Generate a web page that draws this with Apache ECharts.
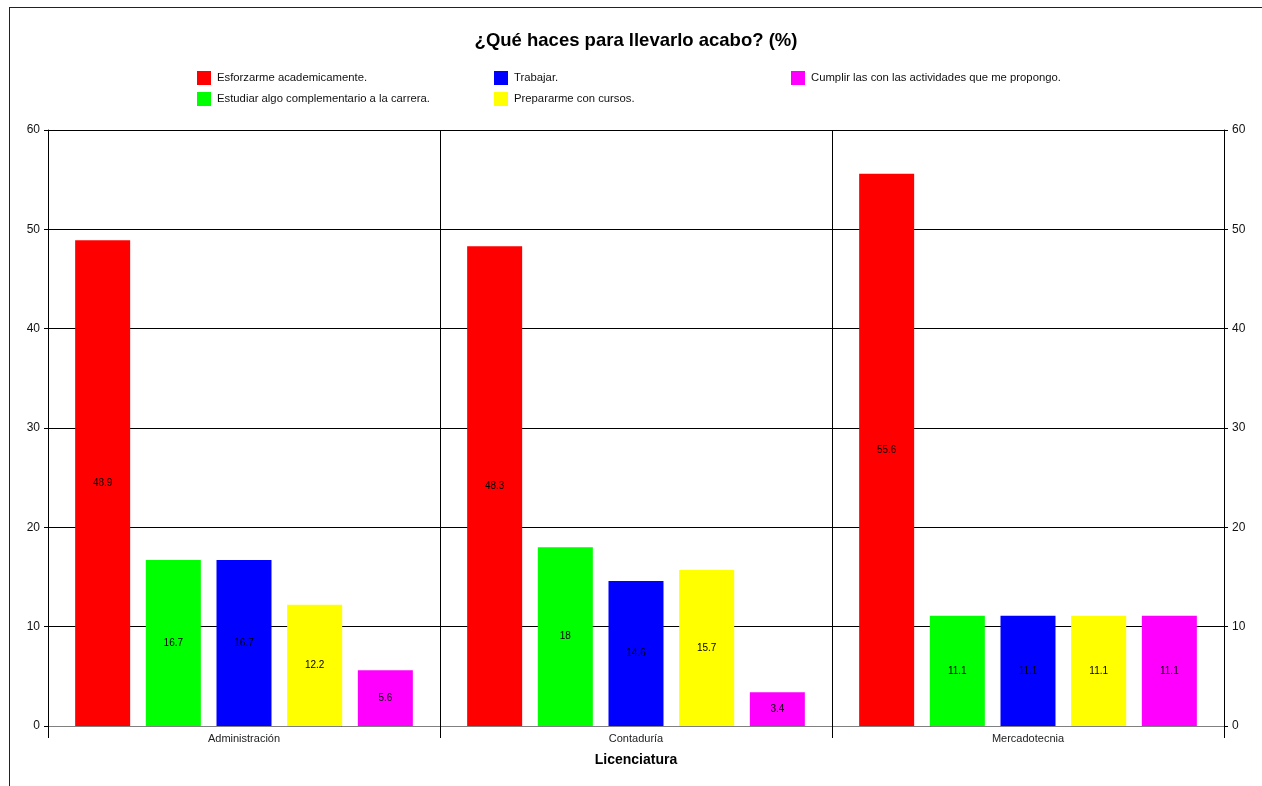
<!DOCTYPE html>
<html>
<head>
<meta charset="utf-8">
<script src="https://cdn.jsdelivr.net/npm/echarts@6/dist/echarts.min.js"></script>
<style>
  html, body { margin: 0; padding: 0; background: #fff; }
  #frame { position: absolute; left: 9px; top: 7px; width: 1300px; height: 800px; border-top: 1px solid #222; border-left: 1px solid #222; }
  #chart { position: absolute; left: 0; top: 0; width: 1262px; height: 786px; }
</style>
</head>
<body>
<div id="frame"></div>
<div id="chart"></div>
<script>
const categories = ['Administración', 'Contaduría', 'Mercadotecnia'];
const seriesNames = [
  'Esforzarme academicamente.',
  'Estudiar algo complementario a la carrera.',
  'Trabajar.',
  'Prepararme con cursos.',
  'Cumplir las con las actividades que me propongo.'
];
const esforzarme = [48.9, 48.3, 55.6];
const estudiar = [16.7, 18, 11.1];
const trabajar = [16.7, 14.6, 11.1];
const prepararme = [12.2, 15.7, 11.1];
const cumplir = [5.6, 3.4, 11.1];
const yTicks = [0, 10, 20, 30, 40, 50, 60];

const colors = ['#ff0000', '#00ff00', '#0000ff', '#ffff00', '#ff00ff'];
const values = [esforzarme, estudiar, trabajar, prepararme, cumplir];
const font = 'Arial, "Liberation Sans", sans-serif';

const chart = echarts.init(document.getElementById('chart'));

function legendAt(left, names) {
  return {
    orient: 'vertical', left: left, top: 71, padding: 0,
    itemWidth: 14, itemHeight: 14, itemGap: 7,
    icon: 'rect', data: names, selectedMode: false,
    itemStyle: { borderWidth: 0 },
    textStyle: { fontSize: 11.3, color: '#111', fontFamily: font, padding: [0, 0, 0, 1] }
  };
}

const valueAxisBase = {
  type: 'value', min: yTicks[0], max: yTicks[yTicks.length - 1], interval: 10,
  axisLine: { show: true, lineStyle: { color: '#000', width: 1 } },
  axisTick: { show: true, length: 4, lineStyle: { color: '#000' } },
  axisLabel: { fontSize: 12, color: '#111', fontFamily: font, margin: 8 }
};

chart.setOption({
  animation: false,
  color: colors,
  title: {
    text: '¿Qué haces para llevarlo acabo? (%)',
    left: 636, top: 31, textAlign: 'center', padding: 0,
    textStyle: { fontSize: 18.5, fontWeight: 'bold', color: '#000', fontFamily: font }
  },
  legend: [
    legendAt(197, [seriesNames[0], seriesNames[1]]),
    legendAt(494, [seriesNames[2], seriesNames[3]]),
    legendAt(791, [seriesNames[4]])
  ],
  grid: { left: 48, right: 38, top: 130, bottom: 60, containLabel: false },
  xAxis: {
    type: 'category', data: categories,
    name: 'Licenciatura', nameLocation: 'middle', nameGap: 27,
    nameTextStyle: { fontSize: 14, fontWeight: 'bold', color: '#000', fontFamily: font },
    axisLine: { show: true, lineStyle: { color: '#808080', width: 1 } },
    axisTick: { show: true, length: 12, interval: 0, lineStyle: { color: '#000' } },
    axisLabel: { fontSize: 11, color: '#222', fontFamily: font, margin: 7, interval: 0 },
    splitLine: { show: true, interval: 0, lineStyle: { color: '#000', width: 1 } }
  },
  yAxis: [
    Object.assign({}, valueAxisBase, {
      position: 'left',
      splitLine: { show: true, lineStyle: { color: '#000', width: 1 } }
    }),
    Object.assign({}, valueAxisBase, {
      position: 'right',
      splitLine: { show: false }
    })
  ],
  series: seriesNames.map((name, i) => ({
    name: name, type: 'bar', data: values[i],
    barWidth: 55, barGap: '28.5%', barCategoryGap: '13.8%',
    itemStyle: { color: colors[i], borderWidth: 0 },
    label: {
      show: true, position: 'inside', fontSize: 10, color: '#000',
      fontFamily: font, textBorderWidth: 0
    },
    emphasis: { disabled: true }
  }))
});
</script>
</body>
</html>
